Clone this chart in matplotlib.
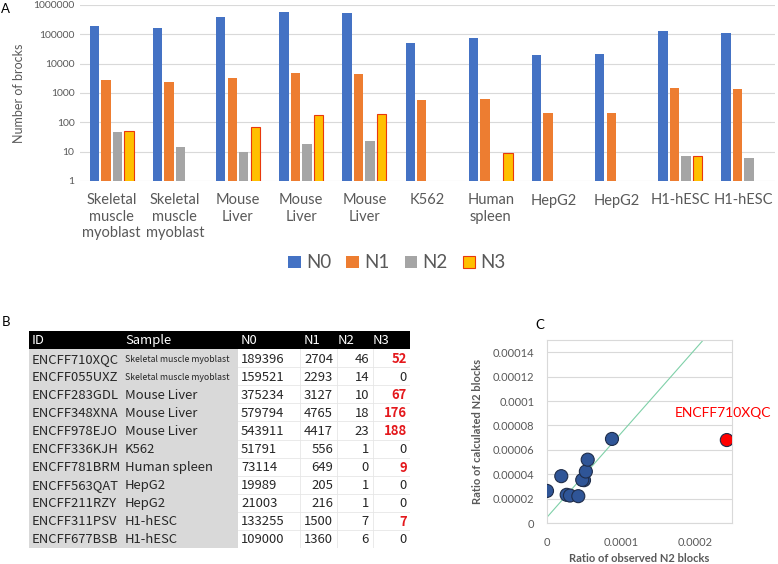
import numpy as np
import matplotlib
matplotlib.use("Agg")
import matplotlib.pyplot as plt
from matplotlib.patches import Rectangle

# ---- data ----
ids = ["ENCFF710XQC", "ENCFF055UXZ", "ENCFF283GDL", "ENCFF348XNA", "ENCFF978EJO",
       "ENCFF336KJH", "ENCFF781BRM", "ENCFF563QAT", "ENCFF211RZY", "ENCFF311PSV",
       "ENCFF677BSB"]
samples = ["Skeletal muscle myoblast", "Skeletal muscle myoblast", "Mouse Liver",
           "Mouse Liver", "Mouse Liver", "K562", "Human spleen", "HepG2", "HepG2",
           "H1-hESC", "H1-hESC"]
bar_labels = ["Skeletal\nmuscle\nmyoblast", "Skeletal\nmuscle\nmyoblast", "Mouse\nLiver",
              "Mouse\nLiver", "Mouse\nLiver", "K562", "Human\nspleen", "HepG2", "HepG2",
              "H1-hESC", "H1-hESC"]
n0 = [189396, 159521, 375234, 579794, 543911, 51791, 73114, 19989, 21003, 133255, 109000]
n1 = [2704, 2293, 3127, 4765, 4417, 556, 649, 205, 216, 1500, 1360]
n2 = [46, 14, 10, 18, 23, 1, 0, 1, 1, 7, 6]
n3 = [52, 0, 67, 176, 188, 0, 9, 0, 0, 7, 0]

# panel C: observed vs calculated N2 ratios
obs_ratio = [0.000243, 0.0000878, 0.0000266, 0.0000310, 0.0000423, 0.0000193,
             0.0, 0.0000500, 0.0000476, 0.0000525, 0.0000550]
calc_ratio = [0.0000680, 0.0000689, 0.0000231, 0.0000225, 0.0000220, 0.0000384,
              0.0000263, 0.0000351, 0.0000353, 0.0000422, 0.0000519]
trend_intercept = 0.0000047
trend_slope = 0.688

W, H = 778, 564
fig = plt.figure(figsize=(W / 100, H / 100), dpi=100)
GRAY = "#595959"
GRID = "#D9D9D9"


def px_axes(x0, y0, x1, y1):
    return fig.add_axes([x0 / W, 1 - y1 / H, (x1 - x0) / W, (y1 - y0) / H])


# ---- panel A: bars ----
ax = px_axes(80, 5, 775, 181)
series = [("N0", n0, "#4472C4", "#4472C4"), ("N1", n1, "#ED7D31", "#ED7D31"),
          ("N2", n2, "#A5A5A5", "#A5A5A5"), ("N3", n3, "#FFC000", "#E8380D")]
x = np.arange(len(bar_labels))
pitch, width = 0.182, 0.148
handles = []
for k, (name, vals, fc, ec) in enumerate(series):
    vals = np.array(vals, dtype=float)
    keep = vals > 0
    b = ax.bar(x[keep] + (k - 1.5) * pitch, vals[keep], width, color=fc,
               edgecolor=ec, linewidth=0.8 if name == "N3" else 0, zorder=3,
               label=name)
    handles.append(b)
ax.set_yscale("log")
ax.set_ylim(1, 1e6)
ax.set_xlim(-0.5, len(bar_labels) - 0.5)
yt = [1, 10, 100, 1000, 10000, 100000, 1000000]
ax.set_yticks(yt)
ax.set_yticklabels([str(v) for v in yt])
ax.yaxis.set_minor_locator(matplotlib.ticker.NullLocator())
ax.set_xticks(x)
ax.set_xticklabels(bar_labels, fontsize=10.5, color=GRAY, family="Lato",
                   linespacing=1.2)
ax.tick_params(axis="y", length=0, labelsize=7.5, labelcolor=GRAY, pad=4)
ax.tick_params(axis="x", length=0, pad=9)
for lab in ax.get_yticklabels():
    lab.set_family("Lato")
ax.grid(axis="y", color=GRID, lw=0.8, zorder=0)
for s in ax.spines.values():
    s.set_visible(False)
ax.set_ylabel("Number of brocks", fontsize=9, color=GRAY, family="Lato")
ax.yaxis.set_label_coords(-0.079, 0.5)
fig.legend(handles=handles, loc="center", bbox_to_anchor=(397 / W, 1 - 263 / H),
           ncol=4, frameon=False, prop={"family": "Lato", "size": 13.5},
           labelcolor=GRAY, handlelength=0.65, handleheight=0.65,
           handletextpad=0.3, columnspacing=0.8)

# ---- panel B: table ----
tb = px_axes(29, 331, 410, 548)
tb.set_xlim(0, 381)
tb.set_ylim(12, 0)
tb.axis("off")
col_edges = [0, 94, 209, 271, 308, 344, 381]
tb.add_patch(Rectangle((0, 0), 381, 1, color="black", lw=0))
tb.add_patch(Rectangle((0, 1), 209, 11, color="#D9D9D9", lw=0))
for r in range(1, 12):
    tb.plot([209, 381], [r + 1, r + 1], color="#E6E6E6", lw=0.6)
for c in col_edges[3:]:
    tb.plot([c, c], [1, 12], color="#E6E6E6", lw=0.6)
TF = "Noto Sans CJK SC"
FS = 9.4
headers = ["ID", "Sample", "N0", "N1", "N2", "N3"]
head_x = [3, 96, 212, 275, 309, 344]
for h, hx in zip(headers, head_x):
    tb.text(hx, 0.55, h, color="white", fontsize=FS, family=TF, va="center")
for i in range(len(ids)):
    y = i + 1.55
    tb.text(3, y, ids[i], fontsize=FS, family=TF, va="center", color="#262626")
    small = len(samples[i]) > 15
    tb.text(96, y, samples[i], fontsize=6.3 if small else FS, family=TF,
            va="center", color="#262626")
    tb.text(212, y, str(n0[i]), fontsize=FS, family=TF, va="center", color="#262626")
    tb.text(304, y, str(n1[i]), fontsize=FS, family=TF, va="center",
            ha="right", color="#262626")
    tb.text(340, y, str(n2[i]), fontsize=FS, family=TF, va="center",
            ha="right", color="#262626")
    red = n3[i] > 0
    tb.text(378, y, str(n3[i]), fontsize=FS, family=TF, va="center", ha="right",
            color="#E4181C" if red else "#262626",
            fontweight="bold" if red else "normal")

# ---- panel C: scatter ----
sc = px_axes(547, 340, 732, 523)
sc.set_xlim(0, 0.00025)
sc.set_ylim(0, 0.00015)
sc.axline((0, trend_intercept), slope=trend_slope, color="#7FD0A8", lw=0.8, zorder=2)
cols = ["#FF0000"] + ["#2F5597"] * (len(obs_ratio) - 1)
sc.scatter(obs_ratio, calc_ratio, s=88, c=cols, edgecolors="#1F2D4A",
           linewidths=0.8, zorder=3)
sc.text(0.000173, 0.00009, ids[0], color="#FF0000", fontsize=10, family="Lato",
        va="center", ha="left")
sc.set_xticks([0, 0.0001, 0.0002])
sc.set_xticklabels(["0", "0.0001", "0.0002"])
ytc = [0, 0.00002, 0.00004, 0.00006, 0.00008, 0.0001, 0.00012, 0.00014]
sc.set_yticks(ytc)
sc.set_yticklabels(["0", "0.00002", "0.00004", "0.00006", "0.00008", "0.0001",
                    "0.00012", "0.00014"])
sc.tick_params(length=0, labelsize=8, labelcolor=GRAY)
sc.tick_params(axis="x", pad=10)
sc.tick_params(axis="y", pad=9)
for lab in sc.get_xticklabels() + sc.get_yticklabels():
    lab.set_family("Lato")
sc.grid(axis="y", color=GRID, lw=0.8, zorder=0)
for s in sc.spines.values():
    s.set_color(GRID)
    s.set_linewidth(0.8)
sc.set_xlabel("Ratio of observed N2 blocks", fontsize=8, fontweight="bold",
              color=GRAY, family="Lato")
sc.xaxis.set_label_coords(0.5, -0.162)
sc.set_ylabel("Ratio of calculated N2 blocks", fontsize=8, fontweight="bold",
              color=GRAY, family="Lato")
sc.yaxis.set_label_coords(-0.346, 0.5)

# panel letters
fig.text(5 / W, 1 - 9 / H, "A", fontsize=9.5, va="center", ha="center", family="Lato")
fig.text(6 / W, 1 - 322 / H, "B", fontsize=9.5, va="center", ha="center", family="Lato")
fig.text(540 / W, 1 - 325 / H, "C", fontsize=9.5, va="center", ha="center", family="Lato")

fig.savefig("out.png", dpi=100)
